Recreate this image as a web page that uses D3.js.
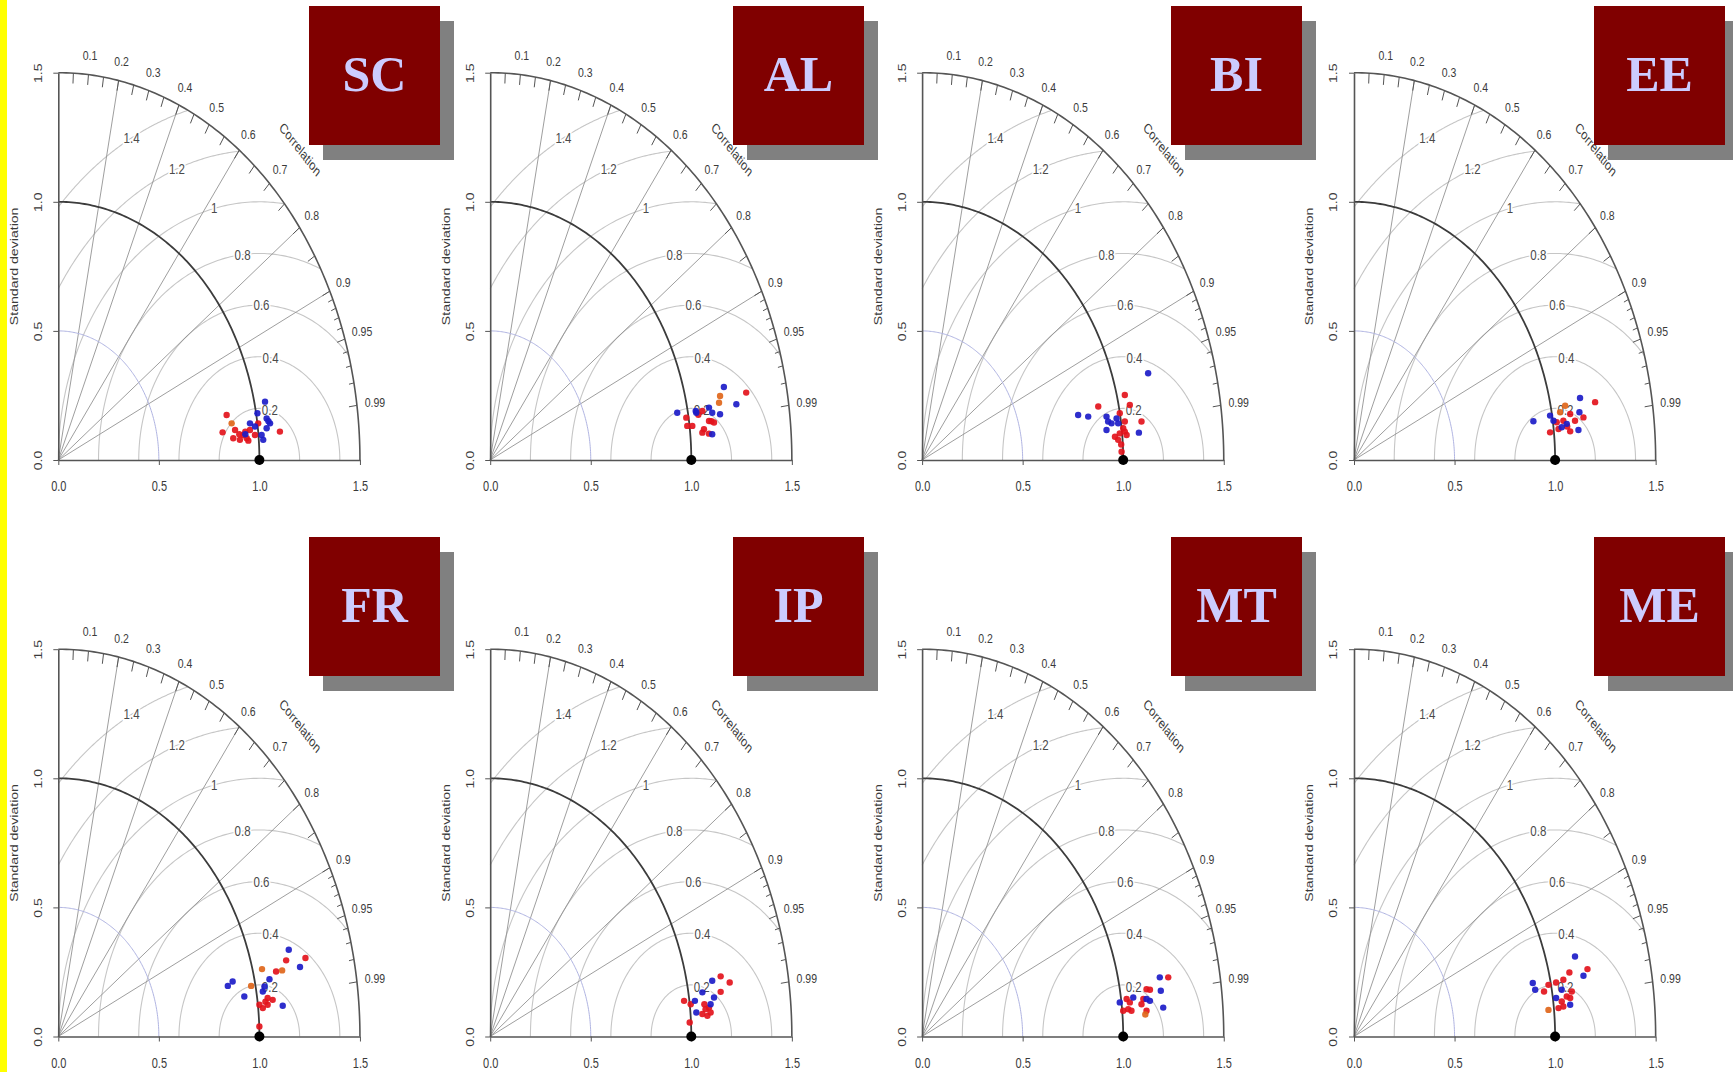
<!DOCTYPE html>
<html>
<head>
<meta charset="utf-8">
<script src="https://cdn.jsdelivr.net/npm/d3@7"></script>
<style>
  body { margin: 0; background: #fff; }
  svg { display: block; }
</style>
</head>
<body>
<svg id="chart" width="1733" height="1072"></svg>
<script>
// ---- Taylor diagram data -------------------------------------------------
// Regions, one diagram each (row-major order)
const regions = ["SC", "AL", "BI", "EE", "FR", "IP", "MT", "ME"];

// Axis / grid definitions (normalised standard deviation, correlation)
const sdTicks = [0, 0.5, 1, 1.5];
const corLabels = [0.1, 0.2, 0.3, 0.4, 0.5, 0.6, 0.7, 0.8, 0.9, 0.95, 0.99];
const corMinorTicks = [0.05, 0.15, 0.25, 0.35, 0.45, 0.55, 0.65, 0.75, 0.85,
                       0.91, 0.92, 0.93, 0.94, 0.96, 0.97, 0.98];
const corLines = [0.2, 0.4, 0.6, 0.8, 0.9];
const rmsLevels = [0.2, 0.4, 0.6, 0.8, 1, 1.2, 1.4];
const refSd = 1;

// Model points as (sd·r, sd·√(1−r²)) in normalised standard deviation units
const scRed = [[0.837,0.174],[0.817,0.107],[0.879,0.116],[0.870,0.084],[0.920,0.097],[0.937,0.084],
  [0.953,0.116],[0.978,0.097],[1.102,0.110],[0.994,0.142],[0.903,0.078],[0.930,0.110],[0.900,0.100],[0.945,0.075]];
const scBlue = [[1.028,0.226],[0.990,0.181],[0.953,0.142],[1.036,0.161],[1.053,0.142],[1.036,0.123],
  [1.011,0.097],[1.019,0.078],[0.978,0.130],[0.930,0.100],[1.045,0.150]];
const scOrange = [[0.862,0.142]];

const alRed = [[1.273,0.261],[1.055,0.190],[0.975,0.164],[0.980,0.132],[1.005,0.132],[1.088,0.151],
  [1.113,0.145],[1.063,0.119],[1.055,0.106],[1.088,0.102],[1.100,0.150],[1.035,0.175]];
const alBlue = [[1.162,0.283],[1.224,0.216],[1.143,0.177],[1.104,0.183],[1.088,0.203],[0.930,0.183],
  [1.022,0.190],[1.104,0.100],[1.025,0.183]];
const alOrange = [[1.143,0.248],[1.138,0.222]];

const biRed = [[1.008,0.252],[0.876,0.207],[1.033,0.213],[0.983,0.181],[1.008,0.149],[1.091,0.149],
  [0.959,0.090],[0.983,0.103],[1.008,0.110],[0.975,0.078],[1.017,0.097],[0.992,0.032],[1.000,0.123],[0.990,0.060]];
const biBlue = [[1.124,0.336],[0.776,0.174],[0.826,0.168],[0.917,0.168],[0.925,0.149],[0.942,0.142],
  [0.975,0.142],[0.917,0.116],[1.078,0.106],[0.967,0.161]];
const biOrange = [];

const eeRed = [[1.199,0.224],[1.075,0.178],[1.141,0.165],[1.099,0.152],[1.008,0.146],[1.041,0.152],
  [1.075,0.111],[0.975,0.107],[1.017,0.120],[1.060,0.130]];
const eeBlue = [[0.892,0.150],[1.124,0.240],[1.121,0.185],[0.975,0.172],[0.992,0.152],[1.058,0.140],
  [1.033,0.127],[1.116,0.116]];
const eeOrange = [[1.050,0.210],[1.025,0.185]];

const frRed = [[1.229,0.304],[1.133,0.295],[1.083,0.252],[1.041,0.149],[1.066,0.142],[1.000,0.123],
  [1.017,0.110],[1.041,0.123],[1.000,0.039],[1.030,0.135]];
const frBlue = [[1.146,0.336],[1.202,0.269],[0.867,0.213],[0.843,0.196],[0.925,0.155],[1.025,0.194],
  [1.050,0.222],[1.116,0.119],[1.017,0.174]];
const frOrange = [[1.013,0.261],[1.113,0.256],[0.959,0.196]];

const ipRed = [[1.146,0.233],[1.191,0.209],[1.146,0.173],[0.964,0.138],[0.997,0.125],[1.071,0.106],
  [1.088,0.112],[1.055,0.087],[1.080,0.080],[0.992,0.054],[1.096,0.093],[1.065,0.125]];
const ipBlue = [[1.104,0.216],[1.055,0.171],[1.018,0.138],[1.025,0.093],[1.096,0.125],[1.113,0.151]];
const ipOrange = [];

const mtRed = [[1.224,0.229],[1.116,0.183],[1.133,0.181],[1.017,0.145],[1.033,0.132],[1.025,0.106],
  [1.091,0.125],[1.100,0.145],[1.116,0.100],[1.041,0.100],[1.000,0.100]];
const mtBlue = [[1.182,0.229],[1.187,0.177],[1.199,0.112],[1.133,0.138],[1.116,0.145],[0.983,0.132],[1.050,0.151]];
const mtOrange = [[1.110,0.085]];

const meRed = [[1.161,0.261],[1.071,0.248],[1.041,0.220],[1.005,0.209],[0.967,0.200],[0.945,0.174],
  [1.083,0.174],[1.075,0.149],[1.033,0.136],[1.017,0.110],[1.041,0.116],[1.058,0.155]];
const meBlue = [[1.099,0.310],[1.141,0.235],[0.889,0.207],[0.901,0.181],[1.033,0.181],[1.005,0.149],[1.075,0.123]];
const meOrange = [[0.967,0.103]];

const seriesByRegion = {
  SC: [scRed, scBlue, scOrange], AL: [alRed, alBlue, alOrange],
  BI: [biRed, biBlue, biOrange], EE: [eeRed, eeBlue, eeOrange],
  FR: [frRed, frBlue, frOrange], IP: [ipRed, ipBlue, ipOrange],
  MT: [mtRed, mtBlue, mtOrange], ME: [meRed, meBlue, meOrange]
};

// ---- Layout & style --------------------------------------------------------
const svg = d3.select("#chart");
const colOrigin = [58.3, 490.2, 922.1, 1354.0];
const rowOrigin = [460, 1036.5];
const unitX = 201.1, unitY = 258.2;   // pixels per sd unit (plot is taller than wide)
const stretch = unitY / unitX;
const boxLeft = [309, 733, 1171, 1594];
const boxTop = [6, 537];
const boxW = 131, boxH = 139;
const seriesColors = ["#e3141c", "#1c1cc8", "#e0661a"];
const font = "'Liberation Sans', Arial, sans-serif";

svg.append("rect").attr("width", 1733).attr("height", 1072).attr("fill", "#fff");
svg.append("rect").attr("x", 0).attr("y", 0).attr("width", 7).attr("height", 1072).attr("fill", "#ffff00");

function label(g, px, py, str, size, rot, extra) {
  const t = g.append("text")
    .attr("transform", `translate(${px},${py}) scale(1,${stretch}) rotate(${rot || 0})`)
    .attr("text-anchor", "middle")
    .attr("dominant-baseline", "central")
    .attr("font-family", font)
    .attr("font-size", size)
    .attr("fill", "#3a3a3a")
    .text(str);
  if (extra) extra(t);
  return t;
}

function drawPanel(idx) {
  const region = regions[idx];
  const col = idx % 4, row = Math.floor(idx / 4);
  const ox = colOrigin[col], oy = rowOrigin[row];
  const x = d3.scaleLinear().domain([0, 1.5]).range([ox, ox + 1.5 * unitX]);
  const y = d3.scaleLinear().domain([0, 1.5]).range([oy, oy - 1.5 * unitY]);
  const line = d3.line().x(d => x(d[0])).y(d => y(d[1]));
  const arc = (cx, r, t0, t1) => d3.range(0, 121).map(k => {
    const t = t0 + (t1 - t0) * k / 120;
    return [cx + r * Math.cos(t), r * Math.sin(t)];
  });
  const g = svg.append("g").attr("class", "taylor " + region);

  // centred RMS difference arcs around the reference point
  rmsLevels.forEach(r => {
    let t0 = 0, t1 = Math.PI;
    if (refSd + r > 1.5) {
      const xi = (1.5 * 1.5 - r * r + refSd * refSd) / (2 * refSd);
      const yi = Math.sqrt(1.5 * 1.5 - xi * xi);
      t0 = Math.atan2(yi, xi - refSd);
    }
    if (r > refSd) t1 = Math.acos(-refSd / r);
    g.append("path").attr("d", line(arc(refSd, r, t0, t1)))
      .attr("fill", "none").attr("stroke", "#c6c6c6").attr("stroke-width", 1.1);
  });

  // correlation rays
  corLines.forEach(c => {
    g.append("path").attr("d", line([[0, 0], [1.5 * c, 1.5 * Math.sqrt(1 - c * c)]]))
      .attr("fill", "none").attr("stroke", "#939393").attr("stroke-width", 0.9);
  });

  // sd = 0.5 arc (light), sd = 1 arc (dark), outer sd = 1.5 arc
  g.append("path").attr("d", line(arc(0, 0.5, 0, Math.PI / 2)))
    .attr("fill", "none").attr("stroke", "#b0b4e2").attr("stroke-width", 1);
  g.append("path").attr("d", line(arc(0, 1, 0, Math.PI / 2)))
    .attr("fill", "none").attr("stroke", "#3c3c3c").attr("stroke-width", 1.8);
  g.append("path").attr("d", line(arc(0, 1.5, 0, Math.PI / 2)))
    .attr("fill", "none").attr("stroke", "#555").attr("stroke-width", 1.6);

  // correlation ticks on the outer arc
  corLabels.concat(corMinorTicks).forEach(c => {
    const s = Math.sqrt(1 - c * c);
    const len = c > 0.9 && c !== 0.95 && c !== 0.99 ? 0.025 : 0.04;
    g.append("path").attr("d", line([[1.5 * c, 1.5 * s], [(1.5 - len) * c, (1.5 - len) * s]]))
      .attr("stroke", "#555").attr("stroke-width", 1);
  });
  corLabels.forEach(c => {
    const s = Math.sqrt(1 - c * c);
    const rr = String(c).length > 3 ? 1.59 : 1.575;
    label(g, x(rr * c), y(rr * s), String(c), 10.5);
  });
  label(g, x(1.70 * Math.SQRT1_2), y(1.70 * Math.SQRT1_2), "Correlation", 11, 45);

  // RMS labels with a white halo
  rmsLevels.forEach(r => {
    const a = (68 + 35 * r) * Math.PI / 180;
    label(g, x(refSd + r * Math.cos(a)), y(r * Math.sin(a)), String(r), 11.5, 0, t =>
      t.attr("fill", "#4a4a4a").attr("stroke", "#fff").attr("stroke-width", 3)
       .attr("paint-order", "stroke"));
  });

  // axes
  const ax = g.append("g").attr("transform", `translate(0,${oy})`)
    .call(d3.axisBottom(x).tickValues(sdTicks).tickFormat(d3.format(".1f")).tickSize(5).tickSizeOuter(0));
  const ay = g.append("g").attr("transform", `translate(${ox},0)`)
    .call(d3.axisLeft(y).tickValues(sdTicks).tickFormat(d3.format(".1f")).tickSize(5).tickSizeOuter(0));
  [ax, ay].forEach(a => {
    a.select(".domain").attr("stroke", "#555").attr("stroke-width", 1.6);
    a.selectAll(".tick line").attr("stroke", "#555");
    a.selectAll(".tick text").attr("font-family", font).attr("font-size", 11).attr("fill", "#3a3a3a")
      .attr("dominant-baseline", "central").attr("dy", null);
  });
  ax.selectAll(".tick text").attr("y", null)
    .attr("transform", `translate(0,27) scale(1,${stretch})`);
  ay.selectAll(".tick text").attr("x", null).attr("text-anchor", "middle")
    .attr("transform", `translate(-20,0) scale(1,${stretch}) rotate(-90)`);
  label(g, ox - 44, y(0.75), "Standard deviation", 11, -90);

  // model points
  const [red, blue, orange] = seriesByRegion[region];
  [[red, 0], [blue, 1], [orange, 2]].forEach(([pts, ci]) => {
    g.append("g").selectAll("circle").data(pts).join("circle")
      .attr("cx", d => x(d[0])).attr("cy", d => y(d[1])).attr("r", 3.2)
      .attr("fill", seriesColors[ci]).attr("fill-opacity", 0.92);
  });

  // reference point
  g.append("circle").attr("cx", x(refSd)).attr("cy", y(0)).attr("r", 5).attr("fill", "#000");

  // region tag
  const bx = boxLeft[col], by = boxTop[row];
  g.append("rect").attr("x", bx + 14).attr("y", by + 15).attr("width", boxW).attr("height", boxH).attr("fill", "#808080");
  g.append("rect").attr("x", bx).attr("y", by).attr("width", boxW).attr("height", boxH).attr("fill", "#800000");
  g.append("text").attr("x", bx + boxW / 2).attr("y", by + 85)
    .attr("text-anchor", "middle").attr("font-family", "'Liberation Serif', 'Times New Roman', serif")
    .attr("font-weight", "bold").attr("font-size", 50).attr("fill", "#ccccff").text(region);
}

regions.forEach((r, i) => drawPanel(i));
</script>
</body>
</html>
